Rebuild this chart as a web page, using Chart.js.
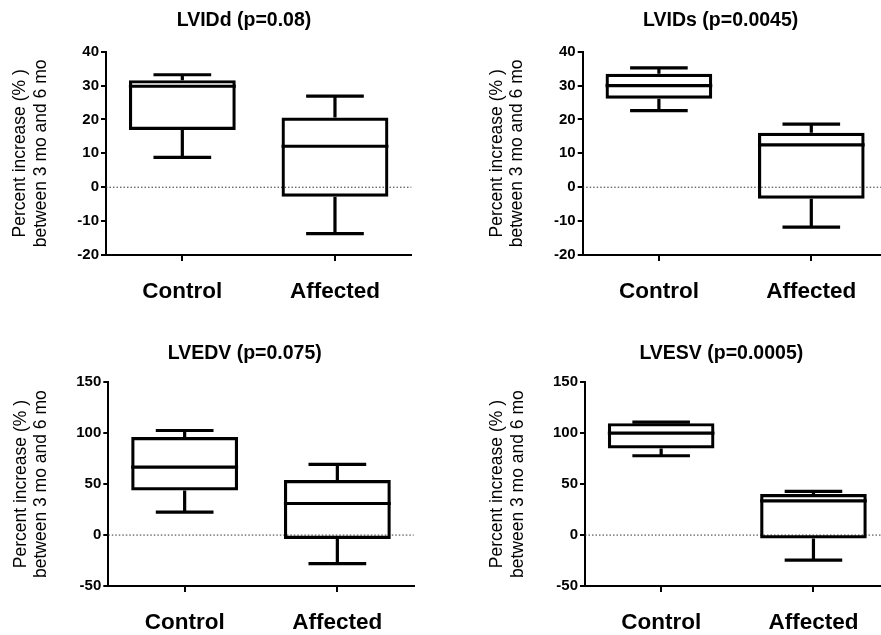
<!DOCTYPE html>
<html>
<head>
<meta charset="utf-8">
<script src="https://cdn.jsdelivr.net/npm/chart.js@4"></script>
<style>
  body { margin: 0; background: #fff; overflow: hidden; width: 881px; height: 635px; position: relative; }
  canvas { position: absolute; }
</style>
</head>
<body>
<canvas id="lvidd" width="440" height="310" style="left:0px;top:0px"></canvas>
<canvas id="lvids" width="460" height="310" style="left:440px;top:0px"></canvas>
<canvas id="lvedv" width="440" height="325" style="left:0px;top:310px"></canvas>
<canvas id="lvesv" width="460" height="325" style="left:440px;top:310px"></canvas>
<script>
const categories = ["Control", "Affected"];
const yTitle = ["Percent increase (% )", "between 3 mo and 6 mo"];

// box values per panel: [Control, Affected]
const lviddMin = [8.8, -13.7];
const lviddQ1 = [16.9, -2.8];
const lviddMedian = [29.8, 12.1];
const lviddQ3 = [31.6, 20.6];
const lviddMax = [33.2, 26.9];

const lvidsMin = [22.6, -11.8];
const lvidsQ1 = [26.1, -3.4];
const lvidsMedian = [30.0, 12.5];
const lvidsQ3 = [33.5, 16.1];
const lvidsMax = [35.2, 18.6];

const lvedvMin = [22.5, -28.0];
const lvedvQ1 = [43.7, -3.9];
const lvedvMedian = [66.8, 31.0];
const lvedvQ3 = [96.2, 54.1];
const lvedvMax = [102.7, 69.4];

const lvesvMin = [77.9, -24.5];
const lvesvQ1 = [85.1, -3.3];
const lvesvMedian = [100.1, 33.6];
const lvesvQ3 = [109.9, 40.4];
const lvesvMax = [110.9, 43.0];

const diamTicks = { min: -20, max: 40, step: 10 };
const volTicks = { min: -50, max: 150, step: 50 };

const FONT = "'Liberation Sans', Arial, sans-serif";

// whiskers, medians, zero line and panel title
const boxPlugin = {
  id: "boxes",
  beforeDatasetsDraw(chart) {
    const { ctx, chartArea, scales } = chart;
    const y0 = scales.y.getPixelForValue(0);
    ctx.save();
    ctx.strokeStyle = "#333";
    ctx.lineWidth = 1;
    ctx.setLineDash([1.5, 2]);
    ctx.beginPath();
    ctx.moveTo(chartArea.left, y0);
    ctx.lineTo(chartArea.right, y0);
    ctx.stroke();
    ctx.restore();
  },
  afterDatasetsDraw(chart, args, opts) {
    const { ctx, scales } = chart;
    const y = scales.y;
    const meta = chart.getDatasetMeta(0);
    ctx.save();
    ctx.strokeStyle = "#000";
    ctx.lineWidth = 3.2;
    meta.data.forEach((bar, i) => {
      const cx = bar.x;
      const hw = bar.width / 2;
      const cap = bar.width * 0.27;
      const yMed = y.getPixelForValue(opts.median[i]);
      const yQ1 = y.getPixelForValue(opts.q1[i]);
      const yQ3 = y.getPixelForValue(opts.q3[i]);
      const yMin = y.getPixelForValue(opts.min[i]);
      const yMax = y.getPixelForValue(opts.max[i]);
      ctx.beginPath();
      ctx.moveTo(cx - hw, yMed);
      ctx.lineTo(cx + hw, yMed);
      // upper whisker
      ctx.moveTo(cx, yQ3);
      ctx.lineTo(cx, yMax);
      ctx.moveTo(cx - cap, yMax);
      ctx.lineTo(cx + cap, yMax);
      // lower whisker
      ctx.moveTo(cx, yQ1);
      ctx.lineTo(cx, yMin);
      ctx.moveTo(cx - cap, yMin);
      ctx.lineTo(cx + cap, yMin);
      ctx.stroke();
    });
    ctx.restore();
  },
  afterDraw(chart, args, opts) {
    const { ctx, chartArea } = chart;
    ctx.save();
    ctx.font = "bold 19.5px " + FONT;
    ctx.fillStyle = "#000";
    ctx.textAlign = "center";
    ctx.textBaseline = "middle";
    ctx.fillText(opts.title, chartArea.left + opts.titleDx, opts.titleY);
    ctx.restore();
  },
};

function makePanel(id, title, min, q1, median, q3, max, ticks, lay) {
  return new Chart(document.getElementById(id), {
    type: "bar",
    data: {
      labels: categories,
      datasets: [
        {
          data: q1.map((v, i) => [v, q3[i]]),
          backgroundColor: "rgba(0,0,0,0)",
          borderColor: "#000",
          borderWidth: 3.2,
          borderSkipped: false,
          barPercentage: 0.7,
          categoryPercentage: 1,
        },
      ],
    },
    plugins: [boxPlugin],
    options: {
      responsive: false,
      animation: false,
      layout: {
        padding: { left: lay.padL, right: lay.padR, top: lay.padT, bottom: 0 },
      },
      plugins: {
        legend: { display: false },
        tooltip: { enabled: false },
        boxes: {
          min: min, q1: q1, median: median, q3: q3, max: max,
          title: title, titleDx: lay.titleDx, titleY: lay.titleY,
        },
      },
      scales: {
        x: {
          offset: true,
          grid: { offset: false, drawOnChartArea: false, tickLength: 6, color: "#000", lineWidth: 2 },
          border: { color: "#000", width: 2 },
          ticks: { color: "#000", padding: 17, font: { family: FONT, size: 22.5, weight: "bold" } },
          afterFit(scale) { scale.height = lay.xHeight; },
        },
        y: {
          min: ticks.min,
          max: ticks.max,
          grid: { drawOnChartArea: false, tickLength: 5, color: "#000", lineWidth: 2 },
          border: { color: "#000", width: 2 },
          ticks: { stepSize: ticks.step, color: "#000", padding: 2, font: { family: FONT, size: 15, weight: "bold" } },
          title: {
            display: true,
            text: yTitle,
            color: "#000",
            font: { family: FONT, size: 17.5, lineHeight: 1.15 },
            padding: { top: lay.titlePad, bottom: 0 },
          },
          afterFit(scale) { scale.width = 100; },
        },
      },
    },
  });
}

makePanel("lvidd", "LVIDd (p=0.08)", lviddMin, lviddQ1, lviddMedian, lviddQ3, lviddMax, diamTicks,
  { padL: 6, padR: 28.7, padT: 51.7, xHeight: 55, titlePad: 4.6, titleDx: 138, titleY: 21 });
makePanel("lvids", "LVIDs (p=0.0045)", lvidsMin, lvidsQ1, lvidsMedian, lvidsQ3, lvidsMax, diamTicks,
  { padL: 42.7, padR: 12.5, padT: 51.7, xHeight: 55, titlePad: 4.6, titleDx: 138, titleY: 21 });
makePanel("lvedv", "LVEDV (p=0.075)", lvedvMin, lvedvQ1, lvedvMedian, lvedvQ3, lvedvMax, volTicks,
  { padL: 8.3, padR: 26.3, padT: 72.3, xHeight: 49, titlePad: 2.5, titleDx: 136.4, titleY: 44 });
makePanel("lvesv", "LVESV (p=0.0005)", lvesvMin, lvesvQ1, lvesvMedian, lvesvQ3, lvesvMax, volTicks,
  { padL: 45, padR: 10.4, padT: 72.3, xHeight: 49, titlePad: 2.5, titleDx: 136.3, titleY: 44 });
</script>
</body>
</html>
